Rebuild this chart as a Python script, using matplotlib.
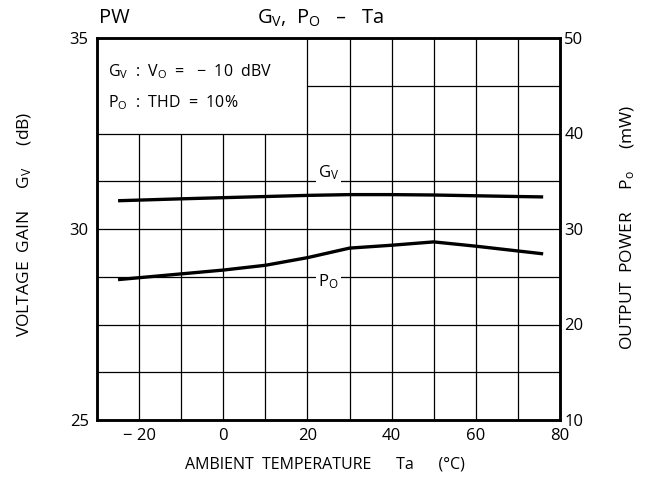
import matplotlib
matplotlib.use('Agg')
import matplotlib.pyplot as plt

plt.rcParams['font.family'] = ['Open Sans', 'DejaVu Sans']
plt.rcParams['mathtext.default'] = 'regular'

# Gain / output power vs ambient temperature
ta = [-25, -10, 0, 10, 20, 30, 40, 50, 60, 70, 76]
gv_db = [30.74, 30.79, 30.82, 30.85, 30.88, 30.90, 30.90, 30.89, 30.87, 30.85, 30.84]
po_mw = [24.7, 25.3, 25.7, 26.2, 27.0, 28.0, 28.3, 28.65, 28.2, 27.7, 27.4]

x_ticks = [-20, 0, 20, 40, 60, 80]
x_labels = ['− 20', '0', '20', '40', '60', '80']
gv_ticks = [25, 30, 35]
po_ticks = [10, 20, 30, 40, 50]

fig = plt.figure(figsize=(6.53, 4.90), dpi=100)
ax = fig.add_axes([97 / 653, 1 - 420 / 490, 463 / 653, 382 / 490])
ax2 = ax.twinx()

ax.set_xlim(-30, 80)
ax.set_ylim(25, 35)
ax2.set_ylim(10, 50)

# grid: every 10 degC, every 5 mW; note box blanks the upper-left corner
grid_kw = dict(color='black', lw=0.9, zorder=1)
for x in range(-20, 80, 10):
    top = 32.5 if x < 20 else 35
    ax.vlines(x, 25, top, **grid_kw)
for p in range(15, 50, 5):
    y = 25 + (p - 10) / 4
    left = 20 if p > 40 else -30
    ax.hlines(y, left, 80, **grid_kw)

ax.plot(ta, gv_db, color='black', lw=2.4, solid_capstyle='butt', zorder=3)
ax2.plot(ta, po_mw, color='black', lw=2.4, solid_capstyle='butt', zorder=3)

ax.text(25, 31.47, 'G$_{V}$', fontsize=12, ha='center', va='center',
        bbox=dict(facecolor='white', edgecolor='none', pad=1.5), zorder=2)
ax.text(25, 28.63, 'P$_{O}$', fontsize=12, ha='center', va='center',
        bbox=dict(facecolor='white', edgecolor='none', pad=1.5), zorder=2)

ax.text(-27.4, 34.12, 'G$_{V}$  :  V$_{O}$  =   −  10  dBV', fontsize=11.5,
        ha='left', va='center')
ax.text(-27.4, 33.32, 'P$_{O}$  :  THD  =  10%', fontsize=11.5,
        ha='left', va='center')

ax.set_xticks(x_ticks)
ax.set_xticklabels(x_labels)
ax.set_yticks(gv_ticks)
ax2.set_yticks(po_ticks)
ax.tick_params(length=0, labelsize=12, pad=6)
ax2.tick_params(length=0, labelsize=12, pad=3)
ax.tick_params(axis='x', pad=6)

for a in (ax, ax2):
    for s in a.spines.values():
        s.set_linewidth(1.8)

fig.text(321 / 653, 1 - 18 / 490, 'G$_{V}$,  P$_{O}$   –   Ta', fontsize=14.5,
         ha='center', va='center')
fig.text(99 / 653, 1 - 18 / 490, 'PW', fontsize=14.5, ha='left', va='center')
fig.text(325 / 653, 1 - 464 / 490, 'AMBIENT  TEMPERATURE      Ta      (°C)',
         fontsize=11.5, ha='center', va='center')
fig.text(25 / 653, 1 - 224 / 490, 'VOLTAGE  GAIN     G$_{V}$     (dB)',
         fontsize=12.5, ha='center', va='center', rotation=90)
fig.text(628 / 653, 1 - 227 / 490, 'OUTPUT  POWER     P$_{o}$     (mW)',
         fontsize=12.5, ha='center', va='center', rotation=90)

fig.savefig('out.png', dpi=100)
